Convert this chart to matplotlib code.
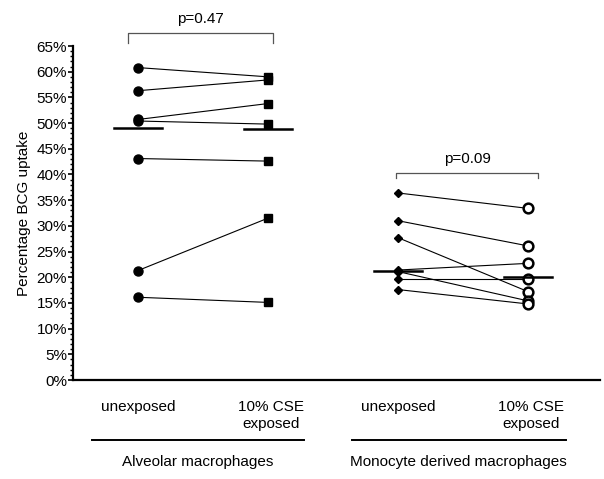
import matplotlib.pyplot as plt
import matplotlib.transforms as mtransforms
from matplotlib.ticker import MultipleLocator, FuncFormatter

plt.rcParams["font.family"] = ["Liberation Sans", "DejaVu Sans"]

# ---------------------------------------------------------------------------
# Data (percent BCG uptake, paired per donor)
# ---------------------------------------------------------------------------
am_unexposed = [60.8, 56.3, 50.7, 50.4, 43.1, 21.3, 16.1]
am_exposed   = [59.0, 58.4, 53.8, 49.8, 42.6, 31.5, 15.1]
am_medians   = [49.1, 48.8]

mdm_unexposed = [36.4, 31.0, 27.7, 21.4, 21.1, 19.6, 17.6]
mdm_exposed   = [33.4, 26.1, 17.2, 22.7, 15.4, 19.6, 14.8]
mdm_medians   = [21.3, 20.0]

cat_labels   = ["unexposed", "10% CSE\nexposed", "unexposed", "10% CSE\nexposed"]
group_labels = ["Alveolar macrophages", "Monocyte derived macrophages"]
p_values     = ["p=0.47", "p=0.09"]

FS = 11

# ---------------------------------------------------------------------------
# Plot
# ---------------------------------------------------------------------------
fig = plt.figure(figsize=(6.04, 4.79), dpi=100)
ax = fig.add_axes([73 / 604, 99 / 479, 527 / 604, 334 / 479])

pairs = [
    (1, 2, am_unexposed, am_exposed, am_medians,
     dict(marker="o", ms=6.5, mfc="black"),
     dict(marker="s", ms=6, mfc="black")),
    (3, 4, mdm_unexposed, mdm_exposed, mdm_medians,
     dict(marker="D", ms=4.5, mfc="black"),
     dict(marker="o", ms=7, mfc="white", mew=1.8)),
]

for x0, x1, before, after, meds, m0, m1 in pairs:
    for a, b in zip(before, after):
        ax.plot([x0, x1], [a, b], color="black", lw=0.8, zorder=2)
    ax.plot([x0] * len(before), before, ls="none", color="black", zorder=3, **m0)
    ax.plot([x1] * len(after), after, ls="none", color="black", mec="black", zorder=3, **m1)
    # median bars
    for x, med in zip([x0, x1], meds):
        ax.plot([x - 0.185, x + 0.185], [med, med], color="black", lw=1.8, zorder=4)

ax.set_xlim(0.5, 4.554)
ax.set_ylim(0, 65)
ax.yaxis.set_major_locator(MultipleLocator(5))
ax.yaxis.set_minor_locator(MultipleLocator(1))
ax.yaxis.set_major_formatter(FuncFormatter(lambda v, _: f"{v:.0f}%"))
ax.tick_params(axis="y", which="major", length=3.6, width=1.2, labelsize=FS, pad=0.8)
ax.tick_params(axis="y", which="minor", length=2.2, width=1.0)
ax.set_xticks([])
for side in ["top", "right"]:
    ax.spines[side].set_visible(False)
for side in ["left", "bottom"]:
    ax.spines[side].set_linewidth(1.6)
ax.set_ylabel("Percentage BCG uptake", fontsize=FS, labelpad=4)

# category and group labels below axis
trans = mtransforms.blended_transform_factory(ax.transData, ax.transAxes)
for i, lab in enumerate(cat_labels):
    ax.text(i + 1 + (0.0 if i % 2 == 0 else 0.02), -0.06, lab, transform=trans,
            ha="center", va="top", fontsize=FS, linespacing=1.25)

group_spans = [(0.646, 2.277), (2.646, 4.29)]
for (g0, g1), lab in zip(group_spans, group_labels):
    ax.plot([g0, g1], [-0.18, -0.18], color="black", lw=1.4, transform=trans, clip_on=False)
    ax.text((g0 + g1) / 2, -0.225, lab, transform=trans, ha="center", va="top", fontsize=FS)

# significance brackets
brackets = [(0.926, 2.04, 67.5, 2.0), (2.985, 4.077, 40.3, 1.0)]
for (b0, b1, y, h), p in zip(brackets, p_values):
    ax.plot([b0, b0, b1, b1], [y - h, y, y, y - h], color="#555555", lw=0.9, clip_on=False)
    ax.text((b0 + b1) / 2, y + 1.3, p, ha="center", va="bottom", fontsize=FS)

fig.savefig("out.png", dpi=100)
